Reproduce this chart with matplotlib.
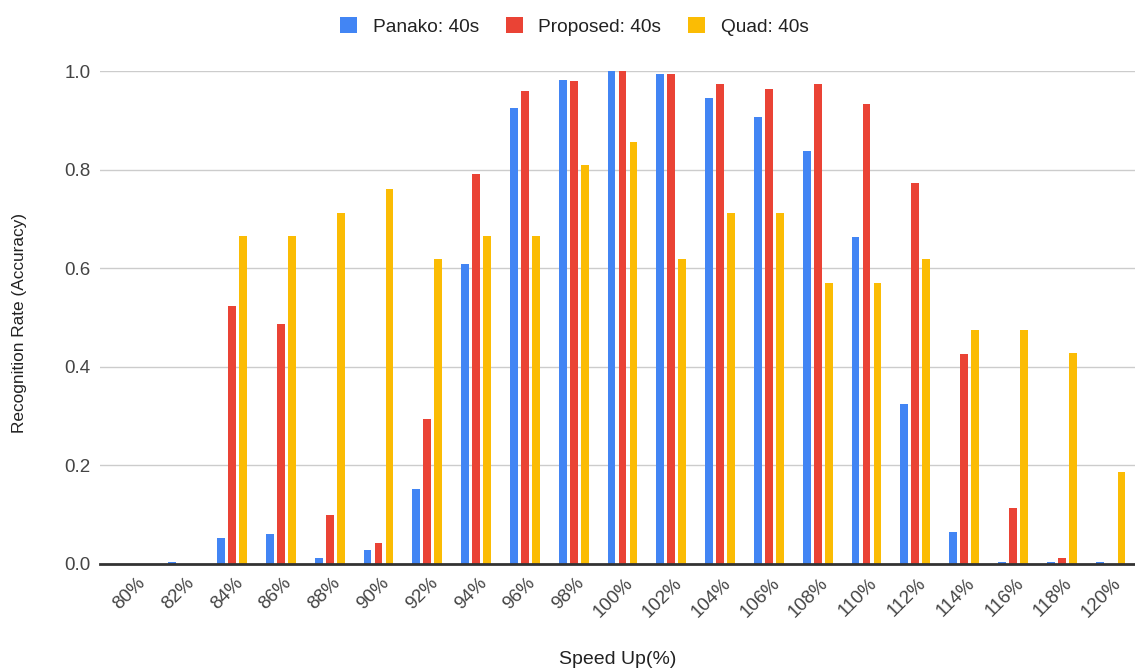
import numpy as np
import matplotlib
matplotlib.use('Agg')
import matplotlib.pyplot as plt
import matplotlib.transforms as mtransforms
from matplotlib.patches import Patch

plt.rcParams['font.family'] = ['Liberation Sans', 'DejaVu Sans']

speeds = ['80%', '82%', '84%', '86%', '88%', '90%', '92%', '94%', '96%', '98%', '100%',
          '102%', '104%', '106%', '108%', '110%', '112%', '114%', '116%', '118%', '120%']

panako = [0.0, 0.004, 0.053, 0.060, 0.013, 0.029, 0.152, 0.608, 0.925, 0.982, 1.0,
          0.994, 0.945, 0.906, 0.838, 0.664, 0.324, 0.064, 0.004, 0.004, 0.004]
proposed = [0.0, 0.0, 0.524, 0.486, 0.099, 0.043, 0.295, 0.792, 0.960, 0.980, 1.0,
            0.994, 0.974, 0.963, 0.974, 0.934, 0.773, 0.425, 0.113, 0.013, 0.0]
quad = [0.0, 0.0, 0.665, 0.665, 0.712, 0.760, 0.619, 0.665, 0.665, 0.809, 0.857,
        0.619, 0.711, 0.711, 0.570, 0.570, 0.619, 0.475, 0.475, 0.427, 0.187]

series = [('Panako: 40s', panako, '#4285F4'),
          ('Proposed: 40s', proposed, '#EA4335'),
          ('Quad: 40s', quad, '#FBBC04')]

FS = 13.5

fig = plt.figure(figsize=(11.35, 6.68), dpi=100)
ax = fig.add_axes([100 / 1135, 0.1557, 1035 / 1135, 0.738])

x = np.arange(len(speeds))
offset = 0.225
width = 0.16
for i, (name, vals, color) in enumerate(series):
    ax.bar(x + (i - 1) * offset, vals, width=width, color=color, label=name,
           zorder=3, clip_on=False)

# a little padding before the first group, the last group runs to the edge
ax.set_xlim(-0.705, len(speeds) - 0.5)
ax.set_ylim(0, 1.0)
ax.set_yticks([0.0, 0.2, 0.4, 0.6, 0.8, 1.0])
ax.set_yticklabels(['0.0', '0.2', '0.4', '0.6', '0.8', '1.0'])
ax.set_xticks(x)
ax.set_xticklabels(speeds, rotation=45, ha='right', va='center', rotation_mode='anchor')

ax.grid(axis='y', color='#cccccc', linewidth=1, zorder=0)
for s in ['top', 'right', 'left']:
    ax.spines[s].set_visible(False)
ax.spines['bottom'].set_color('#333333')
ax.spines['bottom'].set_linewidth(2)
ax.spines['bottom'].set_zorder(4)

ax.tick_params(axis='y', length=0, pad=7, labelsize=FS, labelcolor='#444444')
ax.tick_params(axis='x', length=0, pad=12, labelsize=FS, labelcolor='#444444')

# nudge the rotated labels to the right (after tick_params, which resets transforms)
shift = mtransforms.ScaledTranslation(8 / 100, 0, fig.dpi_scale_trans)
for lbl in ax.get_xticklabels():
    lbl.set_transform(lbl.get_transform() + shift)

ax.set_xlabel('Speed Up(%)', fontsize=14, color='#222222', labelpad=22)
ax.set_ylabel('Recognition Rate (Accuracy)', fontsize=12.4, color='#222222')
ax.yaxis.set_label_coords(-0.0705, 0.489)

handles = [Patch(facecolor=c, label=n) for n, _, c in series]
fig.legend(handles=handles, loc='upper center', bbox_to_anchor=(0.506, 1.0), ncol=3,
           frameon=False, fontsize=13.8, handlelength=0.9, handleheight=0.9,
           columnspacing=1.4, handletextpad=0.8, labelcolor='#222222')

fig.savefig('out.png', dpi=100)
